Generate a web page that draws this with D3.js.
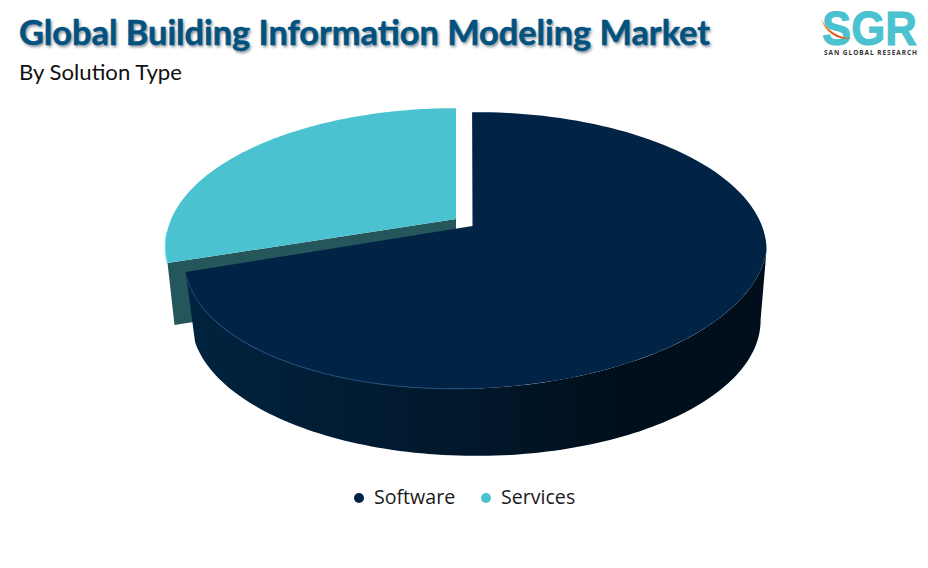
<!DOCTYPE html>
<html>
<head>
<meta charset="utf-8">
<script src="https://cdn.jsdelivr.net/npm/d3@7"></script>
<style>
html, body { margin: 0; padding: 0; background: #fff; }
svg { display: block; }
</style>
</head>
<body>
<div id="chart"></div>
<script>
var categories = ["Software", "Services"];
var shares = [70, 30];
var titleText = "Global Building Information Modeling Market";
var subtitleText = "By Solution Type";

var width = 928, height = 568;
var darkCol = "#012345", cyanCol = "#4bc2cf", tealCol = "#24565c";

var svg = d3.select("#chart").append("svg").attr("width", width).attr("height", height);
var defs = svg.append("defs");

var blur = defs.append("filter").attr("id", "soft").attr("x", "-5%").attr("y", "-20%").attr("width", "110%").attr("height", "150%");
blur.append("feGaussianBlur").attr("stdDeviation", 1.4);

var wallGrad = defs.append("linearGradient").attr("id", "wall").attr("x1", 0).attr("x2", 1).attr("y1", 0).attr("y2", 0);
wallGrad.append("stop").attr("offset", "0%").attr("stop-color", "#01233f");
wallGrad.append("stop").attr("offset", "20%").attr("stop-color", "#011e36");
wallGrad.append("stop").attr("offset", "50%").attr("stop-color", "#01172a");
wallGrad.append("stop").attr("offset", "75%").attr("stop-color", "#010f1c");
wallGrad.append("stop").attr("offset", "100%").attr("stop-color", "#010f1c");

// tilted disc, v is +1 at the front edge
var persp = 0.177;
var scaleU = d3.scaleLinear().domain([-1, 1]).range([476 - 286, 476 + 286]);
var scaleV = d3.scaleLinear().domain([-1, 1]).range([226 - 134, 226 + 134]);

// lean is how much the lower half of the rim drifts left, the picture is not a clean ellipse
function project(angle, dx, dy, shrink, lean) {
	var u = Math.sin(angle) * (shrink || 1);
	var v = -Math.cos(angle) * (shrink || 1);
	var w = 1 - persp * v;
	var x = 476 + (scaleU(u) - 476) / w;
	var y = 226 + (scaleV(v) - 226) / w;
	if (lean) x -= lean * Math.max(0, y - 250);
	return [x + (dx || 0), y + (dy || 0)];
}

function arcPoints(a0, a1, dx, dy, shrink, lean) {
	return d3.range(0, 121).map(function(i) {
		return project(a0 + (a1 - a0) * i / 120, dx, dy, shrink, lean);
	});
}

var line = d3.line();
var pie = d3.pie().sort(null).startAngle(-0.016).endAngle(2 * Math.PI - 0.016);
var arcs = pie(shares);
var soft = arcs[0], serv = arcs[1];

var apex = [472.5, 226];
var apexCyan = [456, 219];
var cyanDx = -20, cyanDy = -4, drop = 71, rimLean = 0.15;

// slice rim is trimmed a little at both cut faces
var cyanStart = serv.startAngle + 0.035, cyanEnd = serv.endAngle + 0.016;

// cut wall of the pulled out slice
var edgeCyan = project(cyanStart, cyanDx, cyanDy);
svg.append("path")
	.attr("d", line([edgeCyan, apexCyan, [apexCyan[0], apexCyan[1] + 62], [edgeCyan[0] + 7, edgeCyan[1] + 62]]) + "Z")
	.attr("fill", tealCol);

// slice top
var cyanRim = arcPoints(cyanStart, cyanEnd, cyanDx, cyanDy);
svg.append("path").attr("d", line([apexCyan].concat(cyanRim)) + "Z").attr("fill", cyanCol);
svg.append("path").attr("d", line(arcPoints(cyanStart, cyanStart + 0.22, cyanDx, cyanDy)))
	.attr("fill", "none").attr("stroke", "#5cdbe8").attr("stroke-width", 1.2);

// software wall, starts where the rim is widest on the right
var frontStart = Math.PI / 2 + 0.17;
var topRim = arcPoints(frontStart, soft.endAngle, 0, 0, 1, rimLean);
var bottomRim = arcPoints(frontStart, soft.endAngle, 0, drop, 0.98).reverse();
svg.append("path").attr("d", line(topRim.concat(bottomRim)) + "Z").attr("fill", "url(#wall)");

// software top
var softPts = [apex].concat(arcPoints(soft.startAngle, soft.endAngle, 0, 0, 1, rimLean));
svg.append("path").attr("d", line(softPts) + "Z").attr("fill", darkCol);

// faint lit rim on the front edge
svg.append("path")
	.attr("d", line(arcPoints(Math.PI * 0.98, Math.PI * 1.38, 0, 0, 1, rimLean)))
	.attr("fill", "none").attr("stroke", "#1a4a76").attr("stroke-width", 1.2).attr("opacity", 0.8);

// title
var titleFont = "Lato, sans-serif";
svg.append("text").attr("x", 20.5).attr("y", 46.5).attr("font-family", titleFont).attr("font-weight", 700)
	.attr("font-size", 34).attr("textLength", 691).attr("lengthAdjust", "spacingAndGlyphs")
	.attr("fill", "#7d8a94").attr("filter", "url(#soft)").text(titleText);
svg.append("text").attr("x", 19).attr("y", 45).attr("font-family", titleFont).attr("font-weight", 700)
	.attr("font-size", 34).attr("textLength", 691).attr("lengthAdjust", "spacingAndGlyphs")
	.attr("fill", "#02527f").attr("stroke", "#02527f").attr("stroke-width", 0.5).text(titleText);
svg.append("text").attr("x", 19).attr("y", 80).attr("font-family", "Lato, sans-serif")
	.attr("font-size", 22).attr("textLength", 163).attr("lengthAdjust", "spacingAndGlyphs")
	.attr("fill", "#111").text(subtitleText);

// legend
var legendX = d3.scaleOrdinal().domain(categories).range([359, 486]);
var legendCol = d3.scaleOrdinal().domain(categories).range([darkCol, cyanCol]);
var legend = svg.selectAll(".legend").data(categories).enter().append("g").attr("class", "legend");
legend.append("circle").attr("cx", function(d) { return legendX(d); }).attr("cy", 498).attr("r", 5)
	.attr("fill", function(d) { return legendCol(d); });
legend.append("text").attr("x", function(d) { return legendX(d) + 15; }).attr("y", 504)
	.attr("font-family", "'Open Sans', sans-serif").attr("font-size", 19.6).attr("fill", "#1a1a1a")
	.text(function(d) { return d; });

// logo
var logo = svg.append("g");
logo.append("text").attr("x", 822).attr("y", 45).attr("font-family", "'Liberation Sans', sans-serif").attr("font-weight", 700)
	.attr("font-size", 48).attr("textLength", 95).attr("lengthAdjust", "spacingAndGlyphs")
	.attr("fill", "#4bc2cf").attr("stroke", "#4bc2cf").attr("stroke-width", 1).text("SGR");
logo.append("path").attr("d", "M821 19 C828 31 838 37 852 39 C838 40 826 34 821 19Z").attr("fill", "#ef8a2e");
logo.append("path").attr("d", "M826 27 C832 34 841 38 852 39 C841 39.5 832 36 826 27Z").attr("fill", "#d9482b");
logo.append("text").attr("x", 824).attr("y", 55).attr("font-family", "'Open Sans', sans-serif").attr("font-weight", 700)
	.attr("font-size", 6.5).attr("textLength", 93).attr("fill", "#333").text("SAN GLOBAL RESEARCH");
</script>
</body>
</html>
